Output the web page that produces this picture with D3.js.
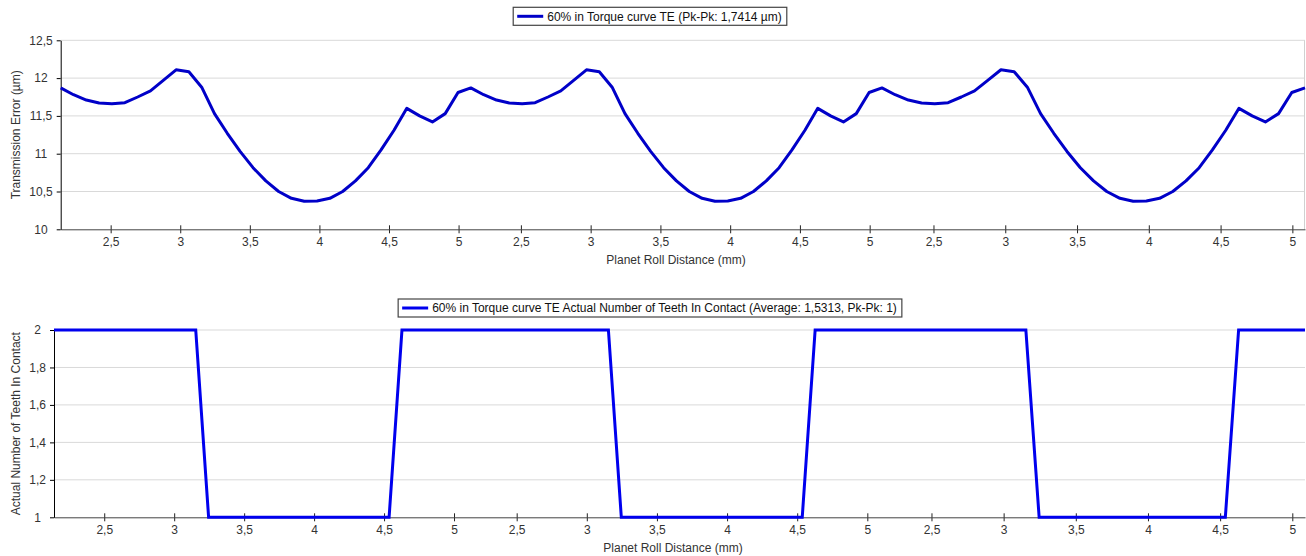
<!DOCTYPE html>
<html><head><meta charset="utf-8">
<script src="https://cdn.jsdelivr.net/npm/d3@7"></script>
<style>
body{margin:0;background:#fff}
svg text{font-family:"Liberation Sans",Arial,sans-serif}
</style>
</head><body>
<svg id="c" width="1306" height="556"></svg>
<script>
// ---------------- DATA ----------------
const rollDistance = [
  2.141,2.233,2.325,2.417,2.509,2.602,2.694,2.786,2.878,2.970,3.062,3.154,3.246,3.338,3.430,3.523,
  3.615,3.707,3.799,3.891,3.983,4.075,4.167,4.259,4.351,4.443,4.536,4.628,4.720,4.812,4.904,4.996,
  2.141,2.233,2.325,2.417,2.509,2.602,2.694,2.786,2.878,2.970,3.062,3.154,3.246,3.338,3.430,3.523,
  3.615,3.707,3.799,3.891,3.983,4.075,4.167,4.259,4.351,4.443,4.536,4.628,4.720,4.812,4.904,4.996,
  2.141,2.233,2.325,2.417,2.509,2.602,2.694,2.786,2.878,2.970,3.062,3.154,3.246,3.338,3.430,3.523,
  3.615,3.707,3.799,3.891,3.983,4.075,4.167,4.259,4.351,4.443,4.536,4.628,4.720,4.812,4.904,4.996,
  2.141
];
const transmissionError = [
  11.87,11.78,11.71,11.67,11.66,11.675,11.75,11.83,11.97,12.11,12.085,11.88,11.53,11.27,11.03,10.815,
  10.64,10.50,10.41,10.37,10.375,10.41,10.50,10.64,10.815,11.05,11.31,11.60,11.50,11.42,11.53,11.81,
  11.87,11.78,11.71,11.67,11.66,11.675,11.75,11.83,11.97,12.11,12.085,11.88,11.53,11.27,11.03,10.815,
  10.64,10.50,10.41,10.37,10.375,10.41,10.50,10.64,10.815,11.05,11.31,11.60,11.50,11.42,11.53,11.81,
  11.87,11.78,11.71,11.67,11.66,11.675,11.75,11.83,11.97,12.11,12.085,11.88,11.53,11.27,11.03,10.815,
  10.64,10.50,10.41,10.37,10.375,10.41,10.50,10.64,10.815,11.05,11.31,11.60,11.50,11.42,11.53,11.81,
  11.87
];
const teethInContact = [
  2,2,2,2,2,2,2,2,2,2,2,2,1,1,1,1,1,1,1,1,1,1,1,1,1,1,1,2,2,2,2,2,
  2,2,2,2,2,2,2,2,2,2,2,2,1,1,1,1,1,1,1,1,1,1,1,1,1,1,1,2,2,2,2,2,
  2,2,2,2,2,2,2,2,2,2,2,2,1,1,1,1,1,1,1,1,1,1,1,1,1,1,1,2,2,2,2,2,
  2
];
const rollPeriod = 2.947;
const xTickValues = [2.5, 3, 3.5, 4, 4.5, 5];
const teTicks = [10, 10.5, 11, 11.5, 12, 12.5];
const contactTicks = [1, 1.2, 1.4, 1.6, 1.8, 2];
const teLegend = "60% in Torque curve TE (Pk-Pk: 1,7414 µm)";
const contactLegend = "60% in Torque curve TE Actual Number of Teeth In Contact (Average: 1,5313, Pk-Pk: 1)";
const xTitle = "Planet Roll Distance (mm)";
const teTitle = "Transmission Error (µm)";
const contactTitle = "Actual Number of Teeth In Contact";

// ---------------- LAYOUT ----------------
const periodEdges = [0, 0.3296, 0.66, 1];
const panels = [
  {left:60.7, right:1305, top:40.3, bottom:229.3, domain:[10,12.5], ticks:teTicks, values:transmissionError,
   color:"#0000c8", join:"round", legend:teLegend, legendY:16.3, titleX:676, titleY:260, yTitle:teTitle, frame:true},
  {left:54, right:1305, top:330, bottom:517.3, domain:[1,2], ticks:contactTicks, values:teethInContact,
   color:"#0000ee", join:"miter", legend:contactLegend, legendY:308, titleX:673, titleY:548, yTitle:contactTitle, frame:false}
];
const legendCenterX = 650;

const locale = d3.formatLocale({decimal:",", thousands:".", grouping:[3], currency:["",""]});
const fmt = locale.format("~g");

// cumulative roll distance (unwrap repeating periods)
let period = 0;
const cumDist = rollDistance.map((x, i) => {
  if (i > 0 && x < rollDistance[i-1]) period++;
  return x + period * rollPeriod;
});
const nPeriods = period;

const svg = d3.select("#c");
svg.append("rect").attr("width",1306).attr("height",556).attr("fill","#fff");

panels.forEach(p => {
  const g = svg.append("g");
  const w = p.right - p.left;
  const x = d3.scaleLinear()
    .domain(periodEdges.map((f, i) => cumDist[0] + i * rollPeriod))
    .range(periodEdges.map(f => p.left + f * w));
  const y = d3.scaleLinear().domain(p.domain).range([p.bottom, p.top]);

  // grid
  g.append("g").selectAll("line").data(p.ticks.filter(t => t !== p.domain[0])).join("line")
    .attr("x1", p.left).attr("x2", p.right)
    .attr("y1", d => y(d)).attr("y2", d => y(d))
    .attr("stroke", "#d9d9d9").attr("stroke-width", 1);
  if (p.frame) {
    g.append("line").attr("x1", p.right - 0.5).attr("x2", p.right - 0.5)
      .attr("y1", p.top).attr("y2", p.bottom).attr("stroke", "#d0d0d0");
  }

  // x axis ticks
  const xt = [], xl = [];
  for (let k = 0; k < nPeriods; k++) {
    xTickValues.forEach(t => { xt.push(t + k * rollPeriod); xl.push(fmt(t)); });
  }
  const xAxis = d3.axisBottom(x).tickValues(xt).tickFormat((d, i) => xl[i])
    .tickSize(4).tickPadding(4).tickSizeOuter(0);
  const gx = g.append("g").attr("transform", `translate(0,${p.bottom})`).call(xAxis);
  gx.select(".domain").attr("stroke", "#444");
  gx.selectAll(".tick line").attr("y1", -4).attr("y2", 4).attr("stroke", "#222");
  gx.selectAll(".tick text").attr("font-size", 12).attr("fill", "#333")
    .style("font-family", '"Liberation Sans",Arial,sans-serif');

  // y axis
  const yAxis = d3.axisLeft(y).tickValues(p.ticks).tickFormat(fmt).tickSize(4).tickPadding(4).tickSizeOuter(0);
  const gy = g.append("g").attr("transform", `translate(${p.left},0)`).call(yAxis);
  gy.select(".domain").attr("stroke", "#000");
  gy.selectAll(".tick line").attr("stroke", "#000");
  const ytexts = gy.selectAll(".tick text").attr("font-size", 12).attr("fill", "#333")
    .style("font-family", '"Liberation Sans",Arial,sans-serif');
  let maxW = 0;
  ytexts.each(function(){ maxW = Math.max(maxW, this.getComputedTextLength()); });
  ytexts.attr("text-anchor", "middle").attr("x", -(8 + maxW / 2));
  gx.select(".domain").raise();

  // line
  const line = d3.line().x((d, i) => x(cumDist[i])).y(d => y(d));
  g.append("path").datum(p.values).attr("d", line)
    .attr("fill", "none").attr("stroke", p.color).attr("stroke-width", 3)
    .attr("stroke-linejoin", p.join);

  // titles
  g.append("text").attr("x", p.titleX).attr("y", p.titleY).attr("dy", "0.35em")
    .attr("text-anchor", "middle").attr("font-size", 12).attr("fill", "#333").text(xTitle);
  g.append("text").attr("transform", `translate(16,${(p.top + p.bottom) / 2}) rotate(-90)`)
    .attr("dy", "0.35em").attr("text-anchor", "middle").attr("font-size", 12).attr("fill", "#333").text(p.yTitle);

  // legend
  const lg = g.append("g");
  const box = lg.append("rect");
  const sample = lg.append("line");
  const lt = lg.append("text").attr("font-size", 12).attr("fill", "#111").attr("dy", "0.35em").text(p.legend);
  const tw = lt.node().getComputedTextLength();
  const bw = 4 + 26 + 4 + tw + 5;
  const bx = legendCenterX - bw / 2;
  box.attr("x", bx).attr("y", p.legendY - 9).attr("width", bw).attr("height", 18)
    .attr("fill", "#fff").attr("stroke", "#444").attr("stroke-width", 1.2);
  sample.attr("x1", bx + 4).attr("x2", bx + 30).attr("y1", p.legendY).attr("y2", p.legendY)
    .attr("stroke", p.color).attr("stroke-width", 3);
  lt.attr("x", bx + 34).attr("y", p.legendY);
});
</script>
</body></html>
